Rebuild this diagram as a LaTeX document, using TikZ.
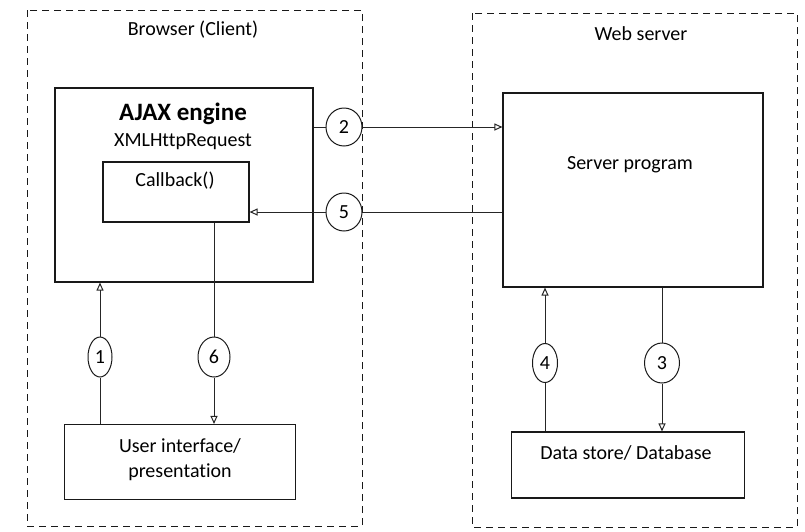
\documentclass[tikz,border=0pt]{standalone}
\usepackage{fontspec}
\setmainfont[Ligatures={NoCommon}]{Carlito}
\usetikzlibrary{arrows.meta,shapes.geometric}
\begin{document}
\begin{tikzpicture}[x=1pt,y=-1pt,
  every node/.style={font=\fontsize{20}{24}\selectfont},
  outer/.style={draw=black!90, line width=1pt, dash pattern=on 7pt off 5pt},
  box/.style={draw=black!90, line width=1.1pt, rectangle, inner sep=0pt},
  num/.style={draw=black!90, line width=1pt, ellipse, inner sep=0pt},
  conn/.style={draw=black!85, line width=1pt},
  arr/.style={conn, -{Triangle[open,length=8pt,width=7pt]}},
  lbl/.style={inner sep=0pt, anchor=center}]
\useasboundingbox (0,0) rectangle (805,531);
% outer dashed regions
\draw[outer] (27,10) rectangle (362,526);
\draw[outer] (472,13) rectangle (797,527);
\node[lbl] (tbrowser) at (193,30) {Browser (Client)};
\node[lbl] (tserver) at (641,34) {Web server};
% boxes
\node[box, minimum width=258pt, minimum height=194pt] (ajax) at (184,185) {};
\node[lbl, font=\fontsize{25}{30}\selectfont\bfseries] (tajax) at (183,114) {AJAX engine};
\node[lbl] (txml) at (183,142) {XMLHttpRequest};
\node[box, minimum width=146pt, minimum height=60pt] (cb) at (176,192) {};
\node[lbl] (tcb) at (175,181) {Callback()};
\node[box, minimum width=260pt, minimum height=194pt] (srv) at (633,190) {};
\node[lbl] (tsrv) at (630,165) {Server program};
\node[box, minimum width=231pt, minimum height=75pt] (ui) at (180,462) {};
\node[lbl, align=center, font=\fontsize{20}{25}\selectfont] (tui) at (180,460) {User interface/\\presentation};
\node[box, minimum width=233pt, minimum height=66pt] (db) at (628,465) {};
\node[lbl] (tdb) at (626,453) {Data store/ Database};
% number circles
\node[num, minimum width=36pt, minimum height=38pt] (c2) at (344,127) {2};
\node[num, minimum width=36pt, minimum height=38pt] (c5) at (344,212) {5};
\node[num, minimum width=24pt, minimum height=40pt] (c1) at (100,357) {1};
\node[num, minimum width=32pt, minimum height=40pt] (c6) at (214,357) {6};
\node[num, minimum width=25pt, minimum height=39pt] (c4) at (545,363) {4};
\node[num, minimum width=35pt, minimum height=40pt] (c3) at (662,363) {3};
% connectors
\draw[conn] (c2.west -| ajax.east) -- (c2.west);
\draw[arr] (c2.east) -- (c2.east -| srv.west);
\draw[conn] (c5.east -| srv.west) -- (c5.east);
\draw[arr] (c5.west) -- (c5.west -| cb.east);
\draw[conn] (c1.south |- ui.north) -- (c1.south);
\draw[arr] (c1.north) -- (c1.north |- ajax.south);
\draw[conn] (c6.north |- cb.south) -- (c6.north);
\draw[arr] (c6.south) -- (c6.south |- ui.north);
\draw[conn] (c4.south |- db.north) -- (c4.south);
\draw[arr] (c4.north) -- (c4.north |- srv.south);
\draw[conn] (c3.north |- srv.south) -- (c3.north);
\draw[arr] (c3.south) -- (c3.south |- db.north);
\end{tikzpicture}
\end{document}
